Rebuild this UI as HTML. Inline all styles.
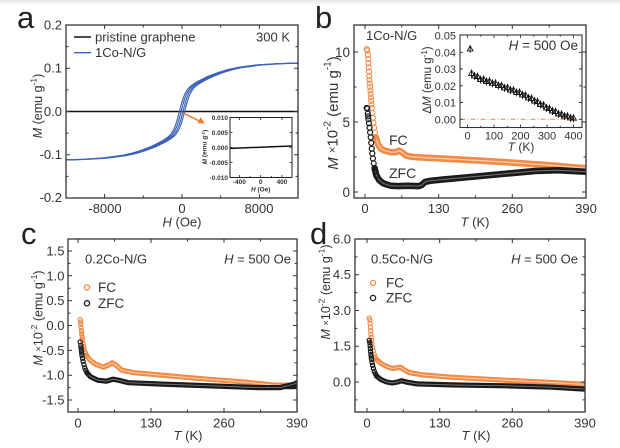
<!DOCTYPE html>
<html>
<head>
<meta charset="utf-8">
<style>
html,body{margin:0;padding:0;background:#fff;}
svg{display:block;}
text{font-family:"Liberation Sans",Arial,sans-serif;fill:#333;}
</style>
</head>
<body>
<svg xmlns="http://www.w3.org/2000/svg" width="620" height="448" viewBox="0 0 620 448">
<defs>
<linearGradient id="tg" x1="0" y1="0" x2="0" y2="1">
<stop offset="0" stop-color="#e6e6e6"/><stop offset="1" stop-color="#ffffff"/>
</linearGradient>
<clipPath id="ca"><rect x="66" y="25" width="232" height="173"/></clipPath>
<clipPath id="cb"><rect x="354" y="25" width="232" height="173"/></clipPath>
<clipPath id="cc"><rect x="68" y="239" width="229" height="173"/></clipPath>
<clipPath id="cd"><rect x="355" y="239" width="230" height="173"/></clipPath>
<marker id="mo" markerUnits="userSpaceOnUse" markerWidth="8" markerHeight="8" refX="4" refY="4" overflow="visible">
<circle cx="4" cy="4" r="2.5" fill="none" stroke="#f08a45" stroke-width="1.1"/>
</marker>
<marker id="mk" markerUnits="userSpaceOnUse" markerWidth="8" markerHeight="8" refX="4" refY="4" overflow="visible">
<circle cx="4" cy="4" r="2.5" fill="none" stroke="#1a1a1a" stroke-width="1.2"/>
</marker>
<marker id="mos" markerUnits="userSpaceOnUse" markerWidth="8" markerHeight="8" refX="4" refY="4" overflow="visible">
<circle cx="4" cy="4" r="2.1" fill="none" stroke="#f08a45" stroke-width="1.1"/>
</marker>
<marker id="mks" markerUnits="userSpaceOnUse" markerWidth="8" markerHeight="8" refX="4" refY="4" overflow="visible">
<circle cx="4" cy="4" r="2.1" fill="none" stroke="#1a1a1a" stroke-width="1.2"/>
</marker>
<marker id="tri" markerUnits="userSpaceOnUse" markerWidth="10" markerHeight="10" refX="5" refY="5" overflow="visible">
<path d="M5,1.9 L2.1,7 L7.9,7 Z M5,1 V9" fill="none" stroke="#111" stroke-width="0.9"/>
</marker>
</defs>
<rect x="0" y="0" width="620" height="448" fill="#fff"/>
<rect x="0" y="0" width="620" height="6" fill="url(#tg)"/>

<!-- panel letters -->
<text x="17" y="28" font-size="31" style="fill:#222">a</text>
<text x="315" y="28" font-size="31" style="fill:#222">b</text>
<text x="21" y="244" font-size="31" style="fill:#222">c</text>
<text x="310" y="244" font-size="31" style="fill:#222">d</text>

<!-- ===== Panel a data ===== -->
<g clip-path="url(#ca)">
<line x1="66" y1="111.5" x2="298" y2="111.5" stroke="#111" stroke-width="1.6"/>
<g fill="none" stroke="#3a62b8" stroke-width="1.15" stroke-linejoin="round">
<path id="hyst" transform="translate(-2.6,0)" d="M65.9,159.9 L85.2,159.3 L104.6,158.1 L124,155.5 L133.6,153.4 L143.3,150.5 L153,146.8 L157.8,144.5 L162.6,142.1 L166.5,139.9 L170.4,137.2 L173.3,134.35 L176.2,129.8 L178.1,125.2 L180.1,118.9 L182,111.5 L183.9,104.1 L185.9,97.8 L187.8,93.2 L190.7,88.65 L193.6,85.8 L197.5,83.1 L201.4,80.9 L206.2,78.5 L211,76.2 L220.7,72.5 L230.4,69.6 L240,67.5 L259.4,64.9 L278.8,63.7 L298.1,63.1 L302,63"/>
<path transform="translate(-0.9,0)" d="M65.9,159.9 L85.2,159.3 L104.6,158.1 L124,155.5 L133.6,153.4 L143.3,150.5 L153,146.8 L157.8,144.5 L162.6,142.1 L166.5,139.9 L170.4,137.2 L173.3,134.35 L176.2,129.8 L178.1,125.2 L180.1,118.9 L182,111.5 L183.9,104.1 L185.9,97.8 L187.8,93.2 L190.7,88.65 L193.6,85.8 L197.5,83.1 L201.4,80.9 L206.2,78.5 L211,76.2 L220.7,72.5 L230.4,69.6 L240,67.5 L259.4,64.9 L278.8,63.7 L298.1,63.1 L302,63"/>
<path transform="translate(0.9,0)" d="M62,160 L65.9,159.9 L85.2,159.3 L104.6,158.1 L124,155.5 L133.6,153.4 L143.3,150.5 L153,146.8 L157.8,144.5 L162.6,142.1 L166.5,139.9 L170.4,137.2 L173.3,134.35 L176.2,129.8 L178.1,125.2 L180.1,118.9 L182,111.5 L183.9,104.1 L185.9,97.8 L187.8,93.2 L190.7,88.65 L193.6,85.8 L197.5,83.1 L201.4,80.9 L206.2,78.5 L211,76.2 L220.7,72.5 L230.4,69.6 L240,67.5 L259.4,64.9 L278.8,63.7 L298.1,63.1"/>
<path transform="translate(2.6,0)" d="M62,160 L65.9,159.9 L85.2,159.3 L104.6,158.1 L124,155.5 L133.6,153.4 L143.3,150.5 L153,146.8 L157.8,144.5 L162.6,142.1 L166.5,139.9 L170.4,137.2 L173.3,134.35 L176.2,129.8 L178.1,125.2 L180.1,118.9 L182,111.5 L183.9,104.1 L185.9,97.8 L187.8,93.2 L190.7,88.65 L193.6,85.8 L197.5,83.1 L201.4,80.9 L206.2,78.5 L211,76.2 L220.7,72.5 L230.4,69.6 L240,67.5 L259.4,64.9 L278.8,63.7 L298.1,63.1"/>
</g>
</g>

<!-- ===== Panel b data ===== -->
<g clip-path="url(#cb)" fill="none" stroke-linejoin="round" stroke-linecap="round">
<polyline stroke="#f08a45" stroke-width="6.5" points="375.8,137.4 378,144.4 380.9,148.6 384.8,150.7 390.5,152.1 396.2,152.1 399,150.7 401.8,152.1 405.8,155.6 413.2,157 438.7,158.4 478.3,160.5 512.3,162.6 543.5,164.7 586,168.2 590,168.5"/>
<polyline stroke="#fbd3b3" stroke-width="1.2" points="376.5,139 378,144.4 380.9,148.6 384.8,150.7 390.5,152.1 396.2,152.1 399,150.7 401.8,152.1 405.8,155.6 413.2,157 438.7,158.4 478.3,160.5 512.3,162.6 543.5,164.7 586,168.2 590,168.5"/>
<polyline stroke="none" marker-start="url(#mo)" marker-mid="url(#mo)" marker-end="url(#mo)" points="366.7,49.2 367.3,50.5 367.8,54.8 368.1,59 368.4,63.2 368.7,67.4 369,71.6 369.2,75.8 369.5,80 369.8,83.5 370.1,87 370.4,90.5 370.7,94 371,97.5 371.2,101 371.5,104.5 371.8,108 372.3,112.9 372.9,117.8 373.5,122.7 374.1,127.6 375,132.5 375.8,137.4"/>
<polyline stroke="#1a1a1a" stroke-width="6.5" points="374.6,168.2 376.3,175.2 379.2,180.1 383.1,183.3 390.5,185.7 399,186.1 407.5,185.7 418.8,186.1 421.7,185 425.1,181.9 430.2,180.8 444.3,179.4 467,177.3 489.7,175.2 512.3,173.1 535,171 557.7,170.3 586,171.7 590,171.8"/>
<polyline stroke="#777" stroke-width="1" points="375.5,171.5 376.3,175.2 379.2,180.1 383.1,183.3 390.5,185.7 399,186.1 407.5,185.7 418.8,186.1 421.7,185 425.1,181.9 430.2,180.8 444.3,179.4 467,177.3 489.7,175.2 512.3,173.1 535,171 557.7,170.3 586,171.7 590,171.8"/>
<polyline stroke="none" marker-start="url(#mk)" marker-mid="url(#mk)" marker-end="url(#mk)" points="366.7,108 367.3,108.7 367.8,113.6 368.1,116.4 368.4,119.2 369,123.4 369.5,127.6 370.1,132.5 370.7,137.4 371.2,143 371.8,148.6 372.3,153.5 372.9,158.4 373.7,163.3 374.6,168.2 375.5,171.7 376.3,175.2"/>
</g>

<!-- ===== Panel c data ===== -->
<g clip-path="url(#cc)" fill="none" stroke-linejoin="round" stroke-linecap="round">
<polyline stroke="#f08a45" stroke-width="5.2" points="86.4,355.3 89.2,359.3 94.8,363.8 103.3,367.2 108.9,364.8 112.3,362.8 116.2,365.3 121.8,370.2 134.2,372.7 162.2,375.2 201.5,378.7 246.5,382.2 274.5,385.1 297,385.1 300,385"/>
<polyline stroke="#fbd3b3" stroke-width="1" points="87,356.5 89.2,359.3 94.8,363.8 103.3,367.2 108.9,364.8 112.3,362.8 116.2,365.3 121.8,370.2 134.2,372.7 162.2,375.2 201.5,378.7 246.5,382.2 274.5,385.1 297,385.1 300,385"/>
<polyline stroke="none" marker-start="url(#mos)" marker-mid="url(#mos)" marker-end="url(#mos)" points="80.2,319.5 80.5,322 80.8,324.5 81.1,327.5 81.4,330.5 81.7,333 81.9,335.4 82.2,337.9 82.5,340.4 83,343.4 83.6,346.4 84.1,348.9 84.7,351.3 85.5,353.3 86.4,355.3"/>
<polyline stroke="#1a1a1a" stroke-width="5.2" points="87,372.7 90.4,376.7 97.7,380.2 106.1,381.2 112.8,379.2 118.4,380.2 128.5,382.7 162.2,384.1 218.4,386.1 257.7,387.6 280.1,387.6 294.2,384.1 297,382.7 300,381"/>
<polyline stroke="#1a1a1a" stroke-width="3" points="280.1,387.6 290,387.8 300,387.5"/>
<polyline stroke="#777" stroke-width="0.9" points="88,374 90.4,376.7 97.7,380.2 106.1,381.2 112.8,379.2 118.4,380.2 128.5,382.7 162.2,384.1 218.4,386.1 257.7,387.6 280.1,387.6 294.2,384.1 297,382.7"/>
<polyline stroke="none" marker-start="url(#mks)" marker-mid="url(#mks)" marker-end="url(#mks)" points="80.2,341.9 80.8,345.4 81.1,347.9 81.4,350.4 81.7,352.9 81.9,355.3 82.5,358.3 83.1,361.3 83.9,364.5 84.7,367.7 85.8,370.2 87,372.7"/>
</g>

<!-- ===== Panel d data ===== -->
<g clip-path="url(#cd)" fill="none" stroke-linejoin="round" stroke-linecap="round">
<polyline stroke="#f08a45" stroke-width="5.2" points="376.5,359.4 381,363.4 386.6,366.5 392.2,368.4 397.7,367.7 400.5,367.2 403.9,369.6 408.9,372.5 422.9,374.9 450.9,377.2 506.8,380.3 551.5,382.5 585,384.4 590,384.6"/>
<polyline stroke="#fbd3b3" stroke-width="1" points="377,360.5 381,363.4 386.6,366.5 392.2,368.4 397.7,367.7 400.5,367.2 403.9,369.6 408.9,372.5 422.9,374.9 450.9,377.2 506.8,380.3 551.5,382.5 585,384.4 590,384.6"/>
<polyline stroke="none" marker-start="url(#mos)" marker-mid="url(#mos)" marker-end="url(#mos)" points="369.2,318.1 369.8,320 370.1,323.6 370.4,327.2 370.6,330.8 370.9,334.3 371.2,337.3 371.5,340.3 372,343.9 372.6,347.4 373.4,351 374.3,354.6 375.4,357 376.5,359.4"/>
<polyline stroke="#1a1a1a" stroke-width="5.2" points="376.5,376 381,379.6 386.6,382 392.2,383 397.7,382 401.7,380.8 406.1,382 417.3,383.9 450.9,384.9 506.8,385.8 551.5,387.2 585,389.1 590,389.3"/>
<polyline stroke="#777" stroke-width="0.9" points="377.5,377 381,379.6 386.6,382 392.2,383 397.7,382 401.7,380.8 406.1,382 417.3,383.9 450.9,384.9 506.8,385.8 551.5,387.2 585,389.1"/>
<polyline stroke="none" marker-start="url(#mks)" marker-mid="url(#mks)" marker-end="url(#mks)" points="369.2,340.3 369.8,342.7 370.1,345.7 370.4,348.6 370.6,351.6 370.9,354.6 371.2,357 371.5,359.4 372,362.4 372.6,365.3 373.4,368.3 374.3,371.3 375.4,373.7 376.5,376"/>
</g>

<!-- ===== Ticks (inward, mirrored) ===== -->
<g fill="none" stroke="#333" stroke-width="1">
<!-- panel a -->
<path d="M104.6,198v-4M182,198v-4M259.4,198v-4M104.6,25v4M182,25v4M259.4,25v4
M143.3,198v-2.5M220.7,198v-2.5M143.3,25v2.5M220.7,25v2.5
M66,68.25h4M66,111.5h4M66,154.75h4M298,68.25h-4M298,111.5h-4M298,154.75h-4
M66,46.6h2.5M66,89.9h2.5M66,133.1h2.5M66,176.4h2.5M298,46.6h-2.5M298,89.9h-2.5M298,133.1h-2.5M298,176.4h-2.5"/>
<!-- panel b -->
<path d="M365,198v-4M438.7,198v-4M512.3,198v-4M365,25v4M438.7,25v4M512.3,25v4
M401.8,198v-2.5M475.5,198v-2.5M549.2,198v-2.5M401.8,25v2.5M475.5,25v2.5M549.2,25v2.5
M354,192h4M354,122h4M354,52h4M586,192h-4M586,122h-4M586,52h-4
M354,157h2.5M354,87h2.5M586,157h-2.5M586,87h-2.5"/>
<!-- panel c -->
<path d="M78,412v-4M151,412v-4M224,412v-4M78,239v4M151,239v4M224,239v4
M114.5,412v-2.5M187.5,412v-2.5M260.5,412v-2.5M114.5,239v2.5M187.5,239v2.5M260.5,239v2.5
M68,251h4M68,275.8h4M68,300.65h4M68,325.5h4M68,350.35h4M68,375.2h4M68,400.05h4
M297,251h-4M297,275.8h-4M297,300.65h-4M297,325.5h-4M297,350.35h-4M297,375.2h-4M297,400.05h-4
M68,263.4h2.5M68,288.2h2.5M68,313.1h2.5M68,337.9h2.5M68,362.8h2.5M68,387.6h2.5
M297,263.4h-2.5M297,288.2h-2.5M297,313.1h-2.5M297,337.9h-2.5M297,362.8h-2.5M297,387.6h-2.5"/>
<!-- panel d -->
<path d="M367,412v-4M439.7,412v-4M512.3,412v-4M367,239v4M439.7,239v4M512.3,239v4
M403.3,412v-2.5M476,412v-2.5M548.7,412v-2.5M403.3,239v2.5M476,239v2.5M548.7,239v2.5
M355,274.8h4M355,310.5h4M355,346.3h4M355,382h4M585,274.8h-4M585,310.5h-4M585,346.3h-4M585,382h-4
M355,256.9h2.5M355,292.6h2.5M355,328.4h2.5M355,364.1h2.5M355,399.9h2.5
M585,256.9h-2.5M585,292.6h-2.5M585,328.4h-2.5M585,364.1h-2.5M585,399.9h-2.5"/>
</g>

<!-- ===== Panel a frame & text ===== -->
<rect x="66" y="25" width="232" height="173" fill="none" stroke="#333" stroke-width="1.3"/>
<g font-size="13" text-anchor="end">
<text x="62" y="29.5">0.2</text>
<text x="62" y="72.5">0.1</text>
<text x="62" y="116">0.0</text>
<text x="62" y="159">-0.1</text>
<text x="62" y="202">-0.2</text>
</g>
<g font-size="13" text-anchor="middle">
<text x="105" y="213">-8000</text>
<text x="182" y="213">0</text>
<text x="259" y="213">8000</text>
<text x="182" y="226.5"><tspan font-style="italic">H</tspan> (Oe)</text>
</g>
<text transform="translate(38,106) rotate(-90)" text-anchor="middle" dominant-baseline="central" font-size="12.5"><tspan font-style="italic">M</tspan> (emu g<tspan font-size="8.5" dy="-4.5">-1</tspan><tspan dy="4.5">)</tspan></text>
<line x1="74" y1="37" x2="91" y2="37" stroke="#111" stroke-width="1.4"/>
<line x1="74" y1="52.7" x2="91" y2="52.7" stroke="#3a62b8" stroke-width="1.4"/>
<text x="95" y="41.5" font-size="13">pristine graphene</text>
<text x="95" y="57.2" font-size="13">1Co-N/G</text>
<text x="290" y="41.5" font-size="13" text-anchor="end">300 K</text>

<!-- inset a -->
<rect x="230" y="117.5" width="62" height="60" fill="#fff" stroke="#222" stroke-width="1"/>
<line x1="230.5" y1="148.4" x2="291.5" y2="146" stroke="#111" stroke-width="1.5"/>
<path fill="none" stroke="#222" stroke-width="0.8" d="M239.4,177.5v-2.5M260.7,177.5v-2.5M282,177.5v-2.5M239.4,117.5v2.5M260.7,117.5v2.5M282,117.5v2.5M250,177.5v-1.5M271.4,177.5v-1.5M230,132.5h2.5M230,147.5h2.5M230,162.5h2.5M292,132.5h-2.5M292,147.5h-2.5M292,162.5h-2.5"/>
<g font-size="6.5" font-weight="bold" text-anchor="end">
<text x="228" y="119.8">0.010</text>
<text x="228" y="134.8">0.005</text>
<text x="228" y="149.8">0.000</text>
<text x="228" y="164.8">-0.005</text>
<text x="228" y="179.8">-0.010</text>
</g>
<g font-size="6.5" font-weight="bold" text-anchor="middle">
<text x="239.4" y="184">-400</text>
<text x="260.7" y="184">0</text>
<text x="282" y="184">400</text>
<text x="260.7" y="191.5"><tspan font-style="italic">H</tspan> (Oe)</text>
</g>
<text transform="translate(205,147) rotate(-90)" text-anchor="middle" dominant-baseline="central" font-size="6.5" font-weight="bold"><tspan font-style="italic">M</tspan> (emu g<tspan font-size="4.5" dy="-2.5">-1</tspan><tspan dy="2.5">)</tspan></text>
<line x1="183" y1="113" x2="199" y2="120.8" stroke="#f07a2a" stroke-width="1.5"/>
<polygon points="205,123.5 197.5,123.2 200.5,117.3" fill="#f07a2a"/>

<!-- ===== Panel b frame & text ===== -->
<rect x="354" y="25" width="232" height="173" fill="none" stroke="#333" stroke-width="1.3"/>
<g font-size="13.5" text-anchor="end">
<text x="350" y="57">10</text>
<text x="350" y="127">5</text>
<text x="350" y="197">0</text>
</g>
<g font-size="13" text-anchor="middle">
<text x="365" y="213">0</text>
<text x="438.7" y="213">130</text>
<text x="512.3" y="213">260</text>
<text x="586" y="213">390</text>
<text x="475" y="226.5"><tspan font-style="italic">T</tspan> (K)</text>
</g>
<text transform="translate(333,113) rotate(-90)" text-anchor="middle" dominant-baseline="central" font-size="15"><tspan font-style="italic">M</tspan> <tspan font-size="11">×</tspan>10<tspan font-size="10" dy="-5.5">-2</tspan><tspan dy="5.5"> (emu g</tspan><tspan font-size="10" dy="-5.5">-1</tspan><tspan dy="5.5">)</tspan></text>
<text x="366" y="40" font-size="13">1Co-N/G</text>
<text x="389" y="145" font-size="14">FC</text>
<text x="389" y="178" font-size="14">ZFC</text>

<!-- inset b -->
<rect x="460" y="35" width="122" height="92.5" fill="#fff" stroke="#333" stroke-width="1.1"/>
<line x1="460.5" y1="119.3" x2="581.5" y2="119.3" stroke="#f08a45" stroke-width="1" stroke-dasharray="5,2,1,2"/>
<polyline fill="none" stroke="none" marker-start="url(#tri)" marker-mid="url(#tri)" marker-end="url(#tri)" points="470.15,48.9 471.5,73.4 474.5,75.9 477.5,76.6 480.5,79.6 483.5,79.4 486.5,81.5 489.5,81.3 492.5,83.4 495.5,83.3 498.5,85.6 501.5,85.6 504.5,87.9 507.5,87.8 510.5,90.1 513.5,90.2 516.5,92.4 519.5,92.4 522.5,94.9 525.5,95.3 528.5,97.9 531.5,98.4 534.5,101 537.5,101.7 540.5,104.5 543.5,105.1 546.5,107.9 549.5,108.5 552.5,111 555.5,111.5 558.5,113.9 561.5,114.3 564.5,116.1 567.5,116.2 570.5,117.9 573.5,118.2"/>
<path fill="none" stroke="#333" stroke-width="0.9" d="M467.5,127.5v-3M494,127.5v-3M520.5,127.5v-3M547,127.5v-3M573.5,127.5v-3M467.5,35v3M494,35v3M520.5,35v3M547,35v3M573.5,35v3
M480.75,127.5v-1.8M507.25,127.5v-1.8M533.75,127.5v-1.8M560.25,127.5v-1.8M480.75,35v1.8M507.25,35v1.8M533.75,35v1.8M560.25,35v1.8
M460,119.3h3M460,102.5h3M460,85.8h3M460,69h3M460,52.3h3M582,119.3h-3M582,102.5h-3M582,85.8h-3M582,69h-3M582,52.3h-3"/>
<g font-size="11" text-anchor="end">
<text x="456" y="39.5">0.05</text>
<text x="456" y="56.3">0.04</text>
<text x="456" y="73">0.03</text>
<text x="456" y="89.8">0.02</text>
<text x="456" y="106.6">0.01</text>
<text x="456" y="123.3">0.00</text>
</g>
<g font-size="11" text-anchor="middle">
<text x="467.5" y="139.5">0</text>
<text x="494" y="139.5">100</text>
<text x="520.5" y="139.5">200</text>
<text x="547" y="139.5">300</text>
<text x="573.5" y="139.5">400</text>
</g>
<text x="521" y="151" font-size="12" text-anchor="middle"><tspan font-style="italic">T</tspan> (K)</text>
<text transform="translate(428,80) rotate(-90)" text-anchor="middle" dominant-baseline="central" font-size="11.5">Δ<tspan font-style="italic">M</tspan> (emu g<tspan font-size="8" dy="-4">-1</tspan><tspan dy="4">)</tspan></text>
<text x="578" y="50" font-size="13.5" text-anchor="end"><tspan font-style="italic">H</tspan> = 500 Oe</text>

<!-- ===== Panel c frame & text ===== -->
<rect x="68" y="239" width="229" height="173" fill="none" stroke="#333" stroke-width="1.3"/>
<g font-size="13" text-anchor="end">
<text x="64.5" y="255.5">1.5</text>
<text x="64.5" y="280.3">1.0</text>
<text x="64.5" y="305.2">0.5</text>
<text x="64.5" y="330">0.0</text>
<text x="64.5" y="354.8">-0.5</text>
<text x="64.5" y="379.6">-1.0</text>
<text x="64.5" y="404.5">-1.5</text>
</g>
<g font-size="13" text-anchor="middle">
<text x="78" y="427.5">0</text>
<text x="151" y="427.5">130</text>
<text x="224" y="427.5">260</text>
<text x="297" y="427.5">390</text>
<text x="188" y="440"><tspan font-style="italic">T</tspan> (K)</text>
</g>
<text transform="translate(38.5,318) rotate(-90)" text-anchor="middle" dominant-baseline="central" font-size="12.5"><tspan font-style="italic">M</tspan> <tspan font-size="9.5">×</tspan>10<tspan font-size="8.5" dy="-4.5">-2</tspan><tspan dy="4.5"> (emu g</tspan><tspan font-size="8.5" dy="-4.5">-1</tspan><tspan dy="4.5">)</tspan></text>
<text x="85" y="263.5" font-size="13">0.2Co-N/G</text>
<text x="291" y="263.5" font-size="13" text-anchor="end"><tspan font-style="italic">H</tspan> = 500 Oe</text>
<circle cx="87" cy="287.5" r="2.6" fill="none" stroke="#f08a45" stroke-width="1.3"/>
<text x="98" y="292" font-size="13.5">FC</text>
<circle cx="87" cy="303.3" r="2.6" fill="none" stroke="#1a1a1a" stroke-width="1.3"/>
<text x="98" y="308" font-size="13.5">ZFC</text>

<!-- ===== Panel d frame & text ===== -->
<rect x="355" y="239" width="230" height="173" fill="none" stroke="#333" stroke-width="1.3"/>
<g font-size="13" text-anchor="end">
<text x="351" y="243.5">6.0</text>
<text x="351" y="279.2">4.5</text>
<text x="351" y="315">3.0</text>
<text x="351" y="350.7">1.5</text>
<text x="351" y="386.5">0.0</text>
</g>
<g font-size="13" text-anchor="middle">
<text x="367" y="427.5">0</text>
<text x="439.7" y="427.5">130</text>
<text x="512.3" y="427.5">260</text>
<text x="585" y="427.5">390</text>
<text x="476" y="440"><tspan font-style="italic">T</tspan> (K)</text>
</g>
<text transform="translate(326,292) rotate(-90)" text-anchor="middle" dominant-baseline="central" font-size="12.5"><tspan font-style="italic">M</tspan> <tspan font-size="9.5">×</tspan>10<tspan font-size="8.5" dy="-4.5">-2</tspan><tspan dy="4.5"> (emu g</tspan><tspan font-size="8.5" dy="-4.5">-1</tspan><tspan dy="4.5">)</tspan></text>
<text x="371" y="263.5" font-size="13">0.5Co-N/G</text>
<text x="578" y="263.5" font-size="13" text-anchor="end"><tspan font-style="italic">H</tspan> = 500 Oe</text>
<circle cx="373" cy="283" r="2.6" fill="none" stroke="#f08a45" stroke-width="1.3"/>
<text x="386" y="287.5" font-size="13.5">FC</text>
<circle cx="373" cy="298" r="2.6" fill="none" stroke="#1a1a1a" stroke-width="1.3"/>
<text x="386" y="302.5" font-size="13.5">ZFC</text>
</svg>
</body>
</html>
